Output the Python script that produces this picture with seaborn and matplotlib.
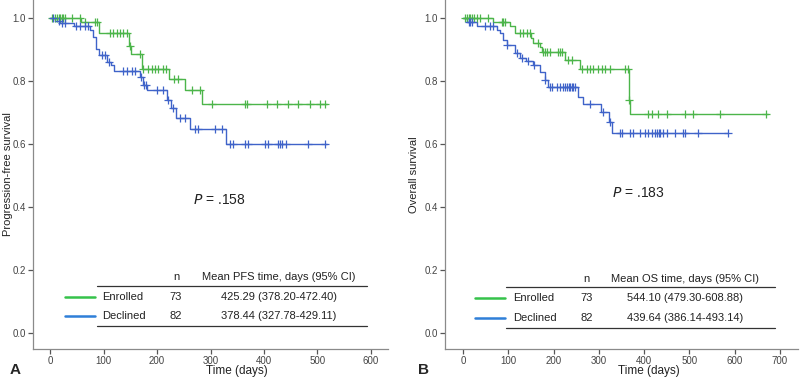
import numpy as np
import pandas as pd
import matplotlib
matplotlib.use("Agg")
import matplotlib.pyplot as plt
import seaborn as sns

# PFS (panel A) - step times / survival / censor times
pfs_enr_t = [0, 58, 92, 147, 152, 171, 222, 253, 284]
pfs_enr_s = [1.0, 0.986, 0.951, 0.912, 0.886, 0.838, 0.806, 0.771, 0.727]
pfs_enr_end = 517
pfs_enr_cens = [3, 9, 12, 16, 19, 22, 25, 28, 41, 56, 65, 84, 87, 112, 118, 125, 131, 137,
                143, 150, 168, 174, 184, 190, 196, 202, 212, 216, 231, 240, 265, 280, 302,
                364, 368, 405, 424, 445, 464, 486, 505, 514]

pfs_dec_t = [0, 9, 19, 44, 75, 80, 86, 91, 107, 113, 120, 168, 173, 181, 218, 226, 236, 262, 329]
pfs_dec_s = [1.0, 0.99, 0.983, 0.975, 0.962, 0.94, 0.90, 0.883, 0.86, 0.85, 0.833, 0.812,
             0.787, 0.77, 0.741, 0.713, 0.682, 0.647, 0.60]
pfs_dec_end = 517
pfs_dec_cens = [6, 16, 22, 28, 49, 56, 65, 70, 97, 103, 111, 137, 143, 153, 159, 170, 176, 180,
                199, 212, 221, 230, 243, 252, 271, 277, 308, 321, 336, 343, 364, 371, 402, 408,
                427, 430, 433, 442, 483, 514]

# OS (panel B)
os_enr_t = [0, 67, 104, 115, 149, 155, 170, 175, 225, 258, 366, 368]
os_enr_s = [1.0, 0.987, 0.975, 0.951, 0.936, 0.92, 0.907, 0.891, 0.867, 0.837, 0.74, 0.694]
os_enr_end = 673
os_enr_cens = [4, 8, 12, 15, 19, 23, 30, 37, 56, 85, 89, 93, 126, 133, 141, 148, 166, 177, 181,
               185, 192, 210, 214, 218, 232, 240, 262, 273, 280, 288, 299, 306, 313, 324, 358,
               364, 367, 409, 417, 431, 450, 490, 509, 567, 670]

os_dec_t = [0, 8, 30, 74, 82, 89, 96, 115, 125, 138, 155, 170, 180, 187, 253, 265, 305, 323, 330]
os_dec_s = [1.0, 0.988, 0.975, 0.962, 0.951, 0.93, 0.914, 0.888, 0.872, 0.863, 0.851, 0.83,
            0.803, 0.78, 0.75, 0.726, 0.70, 0.671, 0.634]
os_dec_end = 586
os_dec_cens = [12, 15, 19, 49, 60, 67, 98, 118, 130, 144, 157, 182, 192, 196, 207, 214, 221, 225,
               229, 233, 236, 240, 243, 247, 280, 310, 325, 347, 350, 369, 376, 391, 402, 409,
               417, 424, 428, 432, 435, 442, 450, 468, 486, 490, 519, 585]

groups = ["Enrolled", "Declined"]
n_vals = ["73", "82"]
pfs_means = ["425.29 (378.20-472.40)", "378.44 (327.78-429.11)"]
os_means = ["544.10 (479.30-608.88)", "439.64 (386.14-493.14)"]

sns.set_style("ticks")
plt.rcParams['font.family'] = ['Liberation Sans', 'DejaVu Sans']

GREEN = "#4cb54a"
BLUE = "#3f63c9"
LEG_GREEN = "#35c24a"
LEG_BLUE = "#2f7fd8"
AXC = "#8a8a8a"


def km(ax, t, s, end, cens, color):
    df = pd.DataFrame({"t": list(t) + [end], "s": list(s) + [s[-1]]})
    sns.lineplot(data=df, x="t", y="s", drawstyle="steps-post", color=color, lw=1.0,
                 estimator=None, ax=ax)
    idx = np.searchsorted(np.array(t), np.array(cens), side="right") - 1
    cy = np.array(s)[idx]
    sns.scatterplot(x=cens, y=cy, marker="+", color=color, s=28, linewidth=0.9, ax=ax, zorder=3)


def style(ax, xmax_tick, xlim, ylabel, xl_x, yl_x):
    ax.set_xlim(*xlim)
    ax.set_ylim(-0.051, 1.057)
    ax.set_xticks(range(0, xmax_tick + 1, 100))
    ax.set_yticks([0.0, 0.2, 0.4, 0.6, 0.8, 1.0])
    ax.set_yticklabels(["0.0", "0.2", "0.4", "0.6", "0.8", "1.0"])
    for sp in ["top", "right"]:
        ax.spines[sp].set_visible(False)
    for sp in ["left", "bottom"]:
        ax.spines[sp].set_color(AXC)
        ax.spines[sp].set_linewidth(0.9)
    ax.tick_params(direction="out", length=3.5, width=0.9, color="#555555",
                   labelsize=7, labelcolor="#444444", pad=1.5)
    ax.set_xlabel("Time (days)", fontsize=8.5, color="#222222")
    ax.set_ylabel(ylabel, fontsize=8, color="#222222")
    ax.xaxis.set_label_coords(xl_x, -0.047)
    ax.yaxis.set_label_coords(yl_x, 0.5)


def table(ax, header, means, y, xs):
    hy, top, r1, r2, bot = y
    lx0, lx1, tx, nx, mx, ln0, ln1 = xs
    tr = ax.transAxes
    kw = dict(transform=tr, fontsize=8, color="#222222", va="center")
    ax.text(nx, hy, "n", ha="center", **kw)
    ax.text(mx, hy, header, ha="center", **kw)
    ax.plot([lx0, lx1], [top, top], color="#333333", lw=0.9, transform=tr, clip_on=False)
    ax.plot([lx0, lx1], [bot, bot], color="#333333", lw=0.9, transform=tr, clip_on=False)
    for ry, g, n, m, c in zip([r1, r2], groups, n_vals, means, [LEG_GREEN, LEG_BLUE]):
        ax.plot([ln0, ln1], [ry, ry], color=c, lw=1.8, transform=tr, clip_on=False)
        ax.text(tx, ry, g, ha="left", **kw)
        ax.text(nx, ry, n, ha="center", **kw)
        ax.text(mx, ry, m, ha="center", **kw)


fig = plt.figure(figsize=(8, 3.81), dpi=100)
axA = fig.add_axes([33 / 800, 1 - 349 / 381, 355 / 800, 349 / 381])
axB = fig.add_axes([445 / 800, 1 - 349 / 381, 353 / 800, 349 / 381])

km(axA, pfs_enr_t, pfs_enr_s, pfs_enr_end, pfs_enr_cens, GREEN)
km(axA, pfs_dec_t, pfs_dec_s, pfs_dec_end, pfs_dec_cens, BLUE)
km(axB, os_enr_t, os_enr_s, os_enr_end, os_enr_cens, GREEN)
km(axB, os_dec_t, os_dec_s, os_dec_end, os_dec_cens, BLUE)

style(axA, 600, (-32, 632), "Progression-free survival", 0.575, -0.056)
style(axB, 700, (-40, 740), "Overall survival", 0.578, -0.074)

table(axA, "Mean PFS time, days (95% CI)", pfs_means,
      (0.206, 0.181, 0.149, 0.095, 0.066),
      (0.180, 0.941, 0.194, 0.403, 0.693, 0.090, 0.175))
table(axB, "Mean OS time, days (95% CI)", os_means,
      (0.201, 0.178, 0.146, 0.089, 0.060),
      (0.173, 0.935, 0.193, 0.402, 0.680, 0.085, 0.170))

axA.text((219 - 33) / 355, (349 - 200) / 349, r"$\it{P}$ = .158", transform=axA.transAxes,
         ha="center", va="center", fontsize=10, color="#222222")
axB.text((638 - 445) / 353, (349 - 193) / 349, r"$\it{P}$ = .183", transform=axB.transAxes,
         ha="center", va="center", fontsize=10, color="#222222")

fig.text(10 / 800, 1 - 370 / 381, "A", fontsize=11, fontweight="bold", va="center")
fig.text(418 / 800, 1 - 370 / 381, "B", fontsize=11, fontweight="bold", va="center")

fig.savefig("out.png", dpi=100)
